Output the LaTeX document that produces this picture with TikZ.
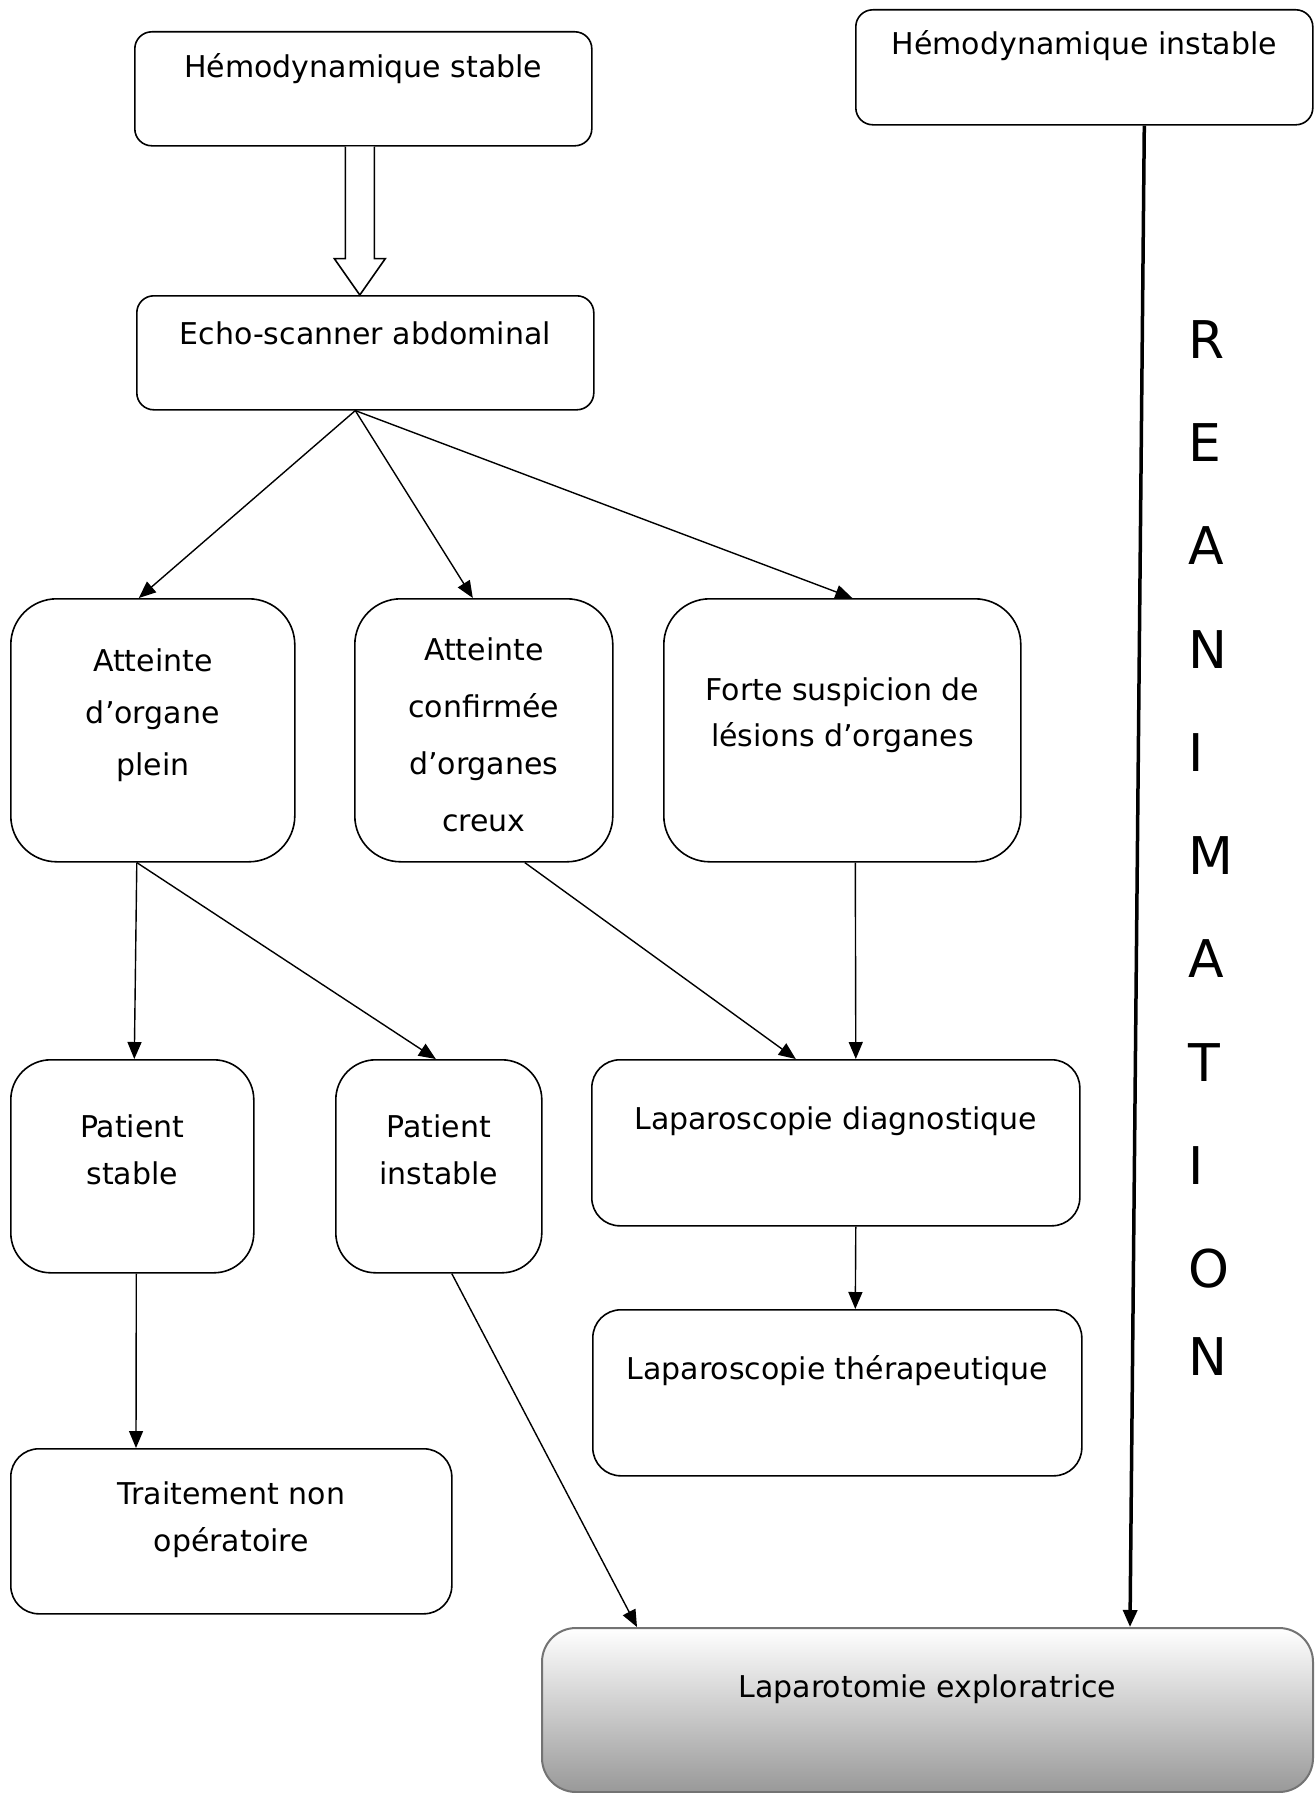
\documentclass[tikz,border=0pt]{standalone}
\usepackage{fontspec}
\setmainfont{DejaVu Sans}
\usetikzlibrary{arrows.meta,calc}

\tikzset{
  box/.style={draw=black, line width=1.6pt, rounded corners=#1, anchor=north west, inner sep=0pt},
  box/.default=17pt,
  txt/.style={align=center, inner sep=0pt, font=\fontsize{30}{47}\selectfont},
  flow/.style={-{Triangle[length=17pt,width=14pt]}, line width=1.4pt},
}

\begin{document}
\begin{tikzpicture}[x=1pt,y=-1pt]
  \useasboundingbox (0,0) rectangle (1315,1793);

  % boxes
  \node[box, minimum width=457pt, minimum height=114pt] (stable) at (134,31) {};
  \node[box, minimum width=457pt, minimum height=115pt] (instable) at (855,9) {};
  \node[box, minimum width=457pt, minimum height=114pt] (echo) at (136,295) {};
  \node[box=46pt, minimum width=284pt, minimum height=263pt] (plein) at (10,598) {};
  \node[box=46pt, minimum width=258pt, minimum height=263pt] (creux) at (354,598) {};
  \node[box=46pt, minimum width=357pt, minimum height=263pt] (forte) at (663,598) {};
  \node[box=40pt, minimum width=243pt, minimum height=213pt] (pstable) at (10,1059) {};
  \node[box=40pt, minimum width=206pt, minimum height=213pt] (pinstable) at (335,1059) {};
  \node[box=28pt, minimum width=488pt, minimum height=166pt] (ldiag) at (591,1059) {};
  \node[box=28pt, minimum width=489pt, minimum height=166pt] (lther) at (592,1309) {};
  \node[box=28pt, minimum width=441pt, minimum height=165pt] (trait) at (10,1448) {};
  \node[box=34pt, draw=black!55, line width=2pt, top color=white, bottom color=black!40,
        minimum width=771pt, minimum height=164pt] (laparo) at (541,1627) {};

  % texts
  \node[txt] (stable-t) at ([yshift=-38pt]stable.north) {Hémodynamique stable};
  \node[txt] (instable-t) at ([yshift=-37pt]instable.north) {Hémodynamique instable};
  \node[txt] (echo-t) at ([yshift=-38pt]echo.north) {Echo-scanner abdominal};
  \node[txt, font=\fontsize{30}{52}\selectfont] (plein-t) at ([yshift=-117pt]plein.north) {Atteinte\\d’organe\\plein};
  \node[txt, font=\fontsize{30}{57}\selectfont] (creux-t) at ([yshift=-137pt]creux.north) {Atteinte\\confirmée\\d’organes\\creux};
  \node[txt, font=\fontsize{30}{46}\selectfont] (forte-t) at ([yshift=-117pt]forte.north) {Forte suspicion de\\lésions d’organes};
  \node[txt] (pstable-t) at ([yshift=-91pt]pstable.north) {Patient\\stable};
  \node[txt] (pinstable-t) at ([yshift=-91pt]pinstable.north) {Patient\\instable};
  \node[txt] (ldiag-t) at ([yshift=-62pt]ldiag.north) {Laparoscopie diagnostique};
  \node[txt] (lther-t) at ([yshift=-62pt]lther.north) {Laparoscopie thérapeutique};
  \node[txt] (trait-t) at ([yshift=-72pt]trait.north) {Traitement non\\opératoire};
  \node[txt] (laparo-t) at ([yshift=-62pt]laparo.north) {Laparotomie exploratrice};
  \node[align=left, inner sep=0pt, anchor=north west, font=\fontsize{52}{103.3}\selectfont]
    (rea) at (1188,320) {R\\E\\A\\N\\I\\M\\A\\T\\I\\O\\[-16pt]N};

  % hollow arrow
  \coordinate (ha) at ([xshift=-3.5pt]stable.south);
  \draw[line width=1.6pt, fill=white, line join=miter]
    ($(ha)+(-14.5,0)$) -- ($(ha)+(-14.5,112)$) -- ($(ha)+(-25.5,112)$)
    -- (ha |- echo.north) -- ($(ha)+(25.5,112)$) -- ($(ha)+(14.5,112)$)
    -- ($(ha)+(14.5,0)$);

  % connectors
  \draw[flow] ([xshift=-10pt]echo.south) -- ([xshift=-14pt]plein.north);
  \draw[flow] ([xshift=-10pt]echo.south) -- ([xshift=-11pt]creux.north);
  \draw[flow] ([xshift=-10pt]echo.south) -- ([xshift=10pt]forte.north);
  \draw[flow] ([xshift=-16pt]plein.south) -- ([xshift=2pt]pstable.north);
  \draw[flow] ([xshift=-16pt]plein.south) -- ([xshift=-3pt]pinstable.north);
  \draw[flow] ([xshift=41pt]creux.south) -- ([xshift=-40pt]ldiag.north);
  \draw[flow] ([xshift=13pt]forte.south) -- ([xshift=20pt]ldiag.north);
  \draw[flow] ([xshift=20pt]ldiag.south) -- ([xshift=18pt]lther.north);
  \draw[flow] ([xshift=4pt]pstable.south) -- ([xshift=126pt]trait.north west);
  \draw[flow] ([xshift=13pt]pinstable.south) -- ([xshift=96pt]laparo.north west);
  \draw[-{Triangle[length=17pt,width=14pt]}, line width=3.5pt]
    ([xshift=60pt]instable.south) -- ([xshift=589pt]laparo.north west);
\end{tikzpicture}
\end{document}
